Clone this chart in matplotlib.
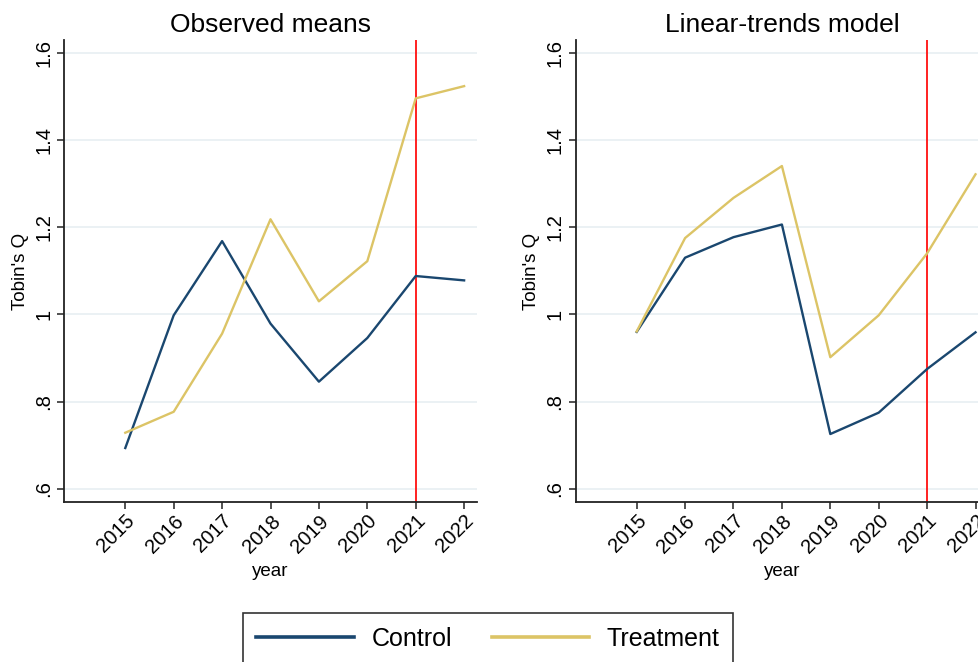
import matplotlib
matplotlib.use("Agg")
import matplotlib.pyplot as plt
from matplotlib.lines import Line2D

plt.rcParams['font.family'] = ['Liberation Sans', 'DejaVu Sans']

years = [2015, 2016, 2017, 2018, 2019, 2020, 2021, 2022]
obs_control = [0.694, 0.998, 1.168, 0.979, 0.846, 0.946, 1.088, 1.078]
obs_treatment = [0.729, 0.777, 0.956, 1.218, 1.030, 1.122, 1.495, 1.523]
lt_control = [0.960, 1.130, 1.177, 1.206, 0.726, 0.775, 0.875, 0.959]
lt_treatment = [0.961, 1.175, 1.267, 1.340, 0.902, 0.998, 1.140, 1.321]
yticks = [0.6, 0.8, 1.0, 1.2, 1.4, 1.6]
ytick_labels = ['.6', '.8', '1', '1.2', '1.4', '1.6']
titles = ['Observed means', 'Linear-trends model']
treat_year = 2021

c_control = '#1a476f'
c_treat = '#dcc466'

W, H = 979, 662
fig = plt.figure(figsize=(W / 100, H / 100), dpi=100)

def add_ax(x0, x1, y0, y1):
    return fig.add_axes([x0 / W, 1 - y1 / H, (x1 - x0) / W, (y1 - y0) / H])

axes = [add_ax(64.3, 476.7, 40.3, 501.7), add_ax(575.7, 988.1, 40.3, 501.7)]
series = [(obs_control, obs_treatment), (lt_control, lt_treatment)]

for ax, (ctl, trt), title in zip(axes, series, titles):
    ax.set_xlim(2013.74, 2022.26)
    ax.set_ylim(0.571, 1.628)
    ax.set_yticks(yticks)
    ax.set_yticklabels(ytick_labels, rotation=90, va='center')
    ax.set_xticks(years)
    ax.set_xticklabels([str(y) for y in years], rotation=45, ha='right',
                       rotation_mode='anchor')
    ax.grid(axis='y', color='#e6eef1', lw=1.1, zorder=0)
    ax.set_axisbelow(True)
    for s in ['top', 'right']:
        ax.spines[s].set_visible(False)
    for s in ['left', 'bottom']:
        ax.spines[s].set_linewidth(1.3)
        ax.spines[s].set_color('#222222')
    ax.tick_params(axis='both', direction='out', length=5, width=1.1,
                   labelsize=14.5, color='#222222', pad=3)
    ax.tick_params(axis='x', pad=2)
    ax.axvline(treat_year, color='#ff2020', lw=1.4, zorder=2)
    ax.plot(years, ctl, color=c_control, lw=1.7, zorder=3)
    ax.plot(years, trt, color=c_treat, lw=1.7, zorder=3)
    ax.set_title(title, fontsize=19, pad=6)
    ax.set_xlabel('year', fontsize=13.5, labelpad=5)
    ax.set_ylabel("Tobin's Q", fontsize=13.5, labelpad=4)

handles = [Line2D([], [], color=c_control, lw=2.6),
           Line2D([], [], color=c_treat, lw=2.6)]
leg = fig.legend(handles, ['Control', 'Treatment'], loc='lower center',
                 bbox_to_anchor=(488 / W, -0.004), ncol=2, fontsize=18,
                 frameon=True, fancybox=False, edgecolor='black',
                 handlelength=3.9, handletextpad=0.7, columnspacing=1.6,
                 borderpad=0.55, borderaxespad=0)
leg.get_frame().set_linewidth(1.2)

fig.savefig('out.png', dpi=100)
